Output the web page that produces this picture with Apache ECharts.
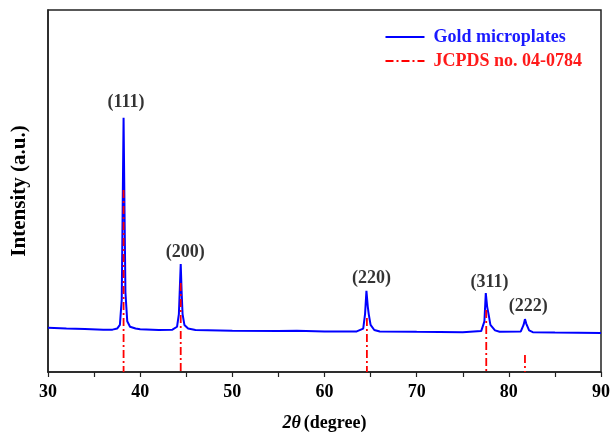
<!DOCTYPE html>
<html>
<head>
<meta charset="utf-8">
<script src="https://cdn.jsdelivr.net/npm/echarts@6/dist/echarts.min.js"></script>
<style>
  html, body { margin: 0; padding: 0; background: #fff; }
  #main { width: 612px; height: 433px; }
</style>
</head>
<body>
<div id="main"></div>
<script>
// XRD pattern of gold microplates
var twoTheta = [30, 32, 34, 36, 37, 37.5, 37.8, 38.0, 38.1, 38.2, 38.3, 38.4, 38.6, 38.9, 39.5,
  40, 42, 43.5, 44.0, 44.2, 44.4, 44.5, 44.6, 44.8, 45.2, 46, 50, 55, 57, 60,
  63.5, 64.2, 64.4, 64.55, 64.7, 64.8, 65.0, 65.4, 66, 70, 75,
  77.0, 77.35, 77.5, 77.65, 77.8, 78.0, 78.5, 79,
  81.3, 81.6, 81.75, 81.9, 82.0, 82.2, 82.6, 85, 90];
var intensity = [12.2, 12.0, 11.9, 11.7, 11.7, 12.0, 13.0, 20, 45, 70.2, 45, 22, 14, 12.5, 12.0,
  11.8, 11.6, 11.7, 12.5, 16, 29.8, 22, 16, 13, 12, 11.6, 11.4, 11.3, 11.4, 11.2,
  11.2, 12, 16, 22.4, 18, 16, 13, 11.6, 11.2, 11.1, 11.0,
  11.3, 14, 21.8, 18, 16, 13, 11.5, 11.1,
  11.2, 13, 14.6, 13.3, 13, 11.5, 11, 10.9, 10.8];

// reference card sticks
var refPos = [38.2, 44.4, 64.6, 77.55, 81.75];
var refHeight = [50.3, 24.6, 14.9, 17.1, 4.7];

// peak index labels
var peakNames = ['(111)', '(200)', '(220)', '(311)', '(222)'];
var peakLabelX = [38.46, 44.9, 65.1, 77.9, 82.1];
var peakLabelY = [74.6, 33.1, 26.0, 24.9, 18.0];

var curveData = twoTheta.map(function (x, i) { return [x, intensity[i]]; });
var stickData = [];
refPos.forEach(function (x, i) {
    // drawn top-down so the dash pattern starts at the peak
    stickData.push([x, refHeight[i]], [x, 0], [x, '-']);
});
var labelData = peakNames.map(function (n, i) { return { name: n, value: [peakLabelX[i], peakLabelY[i]] }; });

var font = 'Liberation Serif';
var myChart = echarts.init(document.getElementById('main'));
var option = {
    animation: false,
    textStyle: { fontFamily: font },
    grid: {
        left: 48, right: 11, top: 10, bottom: 61,
        outerBoundsMode: 'none',
        containLabel: false,
        show: true, borderColor: '#222', borderWidth: 1.5
    },
    legend: {
        right: 25, top: 23,
        orient: 'vertical',
        itemWidth: 39, itemHeight: 14, itemGap: 6,
        itemStyle: { opacity: 0 },
        data: [
            { name: 'Gold microplates', textStyle: { color: '#1a1aff' } },
            { name: 'JCPDS no. 04-0784', textStyle: { color: '#ff1a1a' } }
        ],
        textStyle: { fontFamily: font, fontWeight: 'bold', fontSize: 18, padding: [0, 0, 0, 4] }
    },
    xAxis: {
        type: 'value',
        min: 30, max: 90, interval: 10,
        name: '{i|2θ} {b|(degree)}',
        nameLocation: 'middle',
        nameGap: 42,
        nameTextStyle: {
            rich: {
                i: { fontFamily: font, fontStyle: 'italic', fontWeight: 'bold', fontSize: 18, color: '#000' },
                b: { fontFamily: font, fontWeight: 'bold', fontSize: 18, color: '#000' }
            }
        },
        axisLine: { onZero: false, lineStyle: { color: '#222', width: 1.5 } },
        axisTick: { length: 5, lineStyle: { color: '#222', width: 1.2 } },
        minorTick: { show: true, splitNumber: 2, length: 5, lineStyle: { color: '#222', width: 1.2 } },
        axisLabel: { fontFamily: font, fontWeight: 'bold', fontSize: 18, color: '#000', margin: 11 },
        splitLine: { show: false }
    },
    yAxis: {
        type: 'value',
        min: 0, max: 100,
        name: 'Intensity (a.u.)',
        nameLocation: 'middle',
        nameGap: 18,
        nameTextStyle: { fontFamily: font, fontWeight: 'bold', fontSize: 21, color: '#000' },
        axisLine: { show: true, lineStyle: { color: '#222', width: 1.5 } },
        axisTick: { show: false },
        axisLabel: { show: false },
        splitLine: { show: false }
    },
    series: [
        {
            name: 'Gold microplates',
            type: 'line',
            data: curveData,
            symbol: 'none',
            lineStyle: { color: '#0000ff', width: 2 },
            itemStyle: { color: '#0000ff' },
            z: 2
        },
        {
            name: 'JCPDS no. 04-0784',
            type: 'line',
            data: stickData,
            symbol: 'none',
            connectNulls: false,
            lineStyle: { color: '#ff0000', width: 1.8, type: [8, 3, 2, 3] },
            itemStyle: { color: '#ff0000' },
            z: 3
        },
        {
            name: 'labels',
            type: 'scatter',
            data: labelData,
            symbolSize: 0,
            silent: true,
            label: {
                show: true,
                position: 'inside',
                formatter: '{b}',
                fontFamily: font, fontWeight: 'bold', fontSize: 18, color: '#000'
            },
            z: 4
        }
    ]
};
myChart.setOption(option);
</script>
</body>
</html>
